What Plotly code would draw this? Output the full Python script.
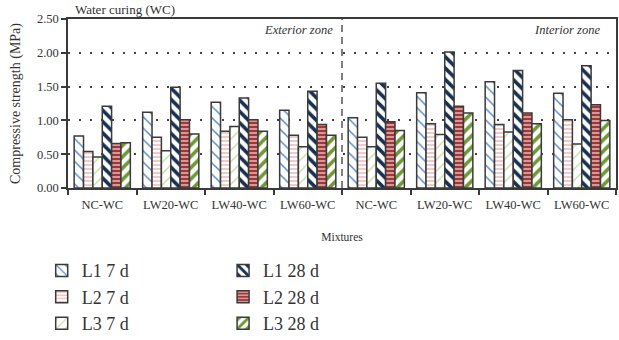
import plotly.graph_objects as go

# Mixtures along the x axis (exterior zone first, then interior zone)
mixtures = ["NC-WC", "LW20-WC", "LW40-WC", "LW60-WC",
            "NC-WC", "LW20-WC", "LW40-WC", "LW60-WC"]

series_names = ["L1 7 d", "L2 7 d", "L3 7 d", "L1 28 d", "L2 28 d", "L3 28 d"]

# Compressive strength (MPa)
l1_7d = [0.77, 1.12, 1.27, 1.15, 1.04, 1.41, 1.57, 1.40]
l2_7d = [0.54, 0.75, 0.84, 0.78, 0.75, 0.95, 0.94, 1.01]
l3_7d = [0.46, 0.55, 0.91, 0.61, 0.61, 0.79, 0.83, 0.65]
l1_28d = [1.21, 1.49, 1.33, 1.43, 1.55, 2.01, 1.74, 1.81]
l2_28d = [0.66, 1.01, 1.01, 0.94, 0.98, 1.21, 1.11, 1.23]
l3_28d = [0.67, 0.80, 0.84, 0.78, 0.85, 1.11, 0.95, 1.00]

y_ticks = [0.0, 0.5, 1.0, 1.5, 2.0, 2.5]

FONT = "'Liberation Serif', 'DejaVu Serif', serif"
TXT = "#333333"
EDGE = "#3a3a3a"

styles = [
    dict(shape="\\", fg="#4f86c6", bg="#ffffff", size=8, sol=0.18, legend="legend"),
    dict(shape="-", fg="#eba3a3", bg="#ffffff", size=4, sol=0.3, legend="legend"),
    dict(shape="/", fg="#c6dea6", bg="#ffffff", size=8, sol=0.18, legend="legend"),
    dict(shape="\\", fg="#17304f", bg="#ffffff", size=8, sol=0.45, legend="legend2"),
    dict(shape="-", fg="#ffffff", bg="#a23535", size=4, sol=0.25, legend="legend2"),
    dict(shape="/", fg="#6c9a32", bg="#ffffff", size=8, sol=0.45, legend="legend2"),
]
values = [l1_7d, l2_7d, l3_7d, l1_28d, l2_28d, l3_28d]

xpos = list(range(len(mixtures)))

fig = go.Figure()
for name, vals, st in zip(series_names, values, styles):
    fig.add_trace(go.Bar(
        x=xpos, y=vals, name=name, legend=st["legend"],
        marker=dict(
            color=st["bg"],
            line=dict(color=EDGE, width=1.5),
            pattern=dict(shape=st["shape"], fgcolor=st["fg"], bgcolor=st["bg"],
                         size=st["size"], solidity=st["sol"], fillmode="replace"),
        ),
    ))

legend_common = dict(
    orientation="v", font=dict(family=FONT, size=18, color=TXT),
    bgcolor="rgba(0,0,0,0)", yanchor="top", xanchor="left",
    itemclick=False, itemdoubleclick=False, tracegroupgap=0,
)

fig.update_layout(
    width=619, height=340,
    margin=dict(l=68, r=3, t=19, b=152, autoexpand=False),
    paper_bgcolor="white", plot_bgcolor="white",
    barmode="group", bargap=0.18, bargroupgap=0,
    font=dict(family=FONT, size=12, color=TXT),
    showlegend=True,
    legend=dict(x=-0.048, y=-0.38, **legend_common),
    legend2=dict(x=0.283, y=-0.38, **legend_common),
    xaxis=dict(
        range=[-0.5, len(mixtures) - 0.5], automargin=False,
        tickmode="array", tickvals=xpos, ticktext=mixtures,
        ticks="", showgrid=False, zeroline=False,
        showline=True, linecolor=EDGE, linewidth=1.5, mirror=True,
        ticklabelstandoff=4,
        tickfont=dict(family=FONT, size=12.5, color=TXT),
        minor=dict(tickvals=[i - 0.5 for i in range(len(mixtures) + 1)],
                   ticks="outside", ticklen=5, tickwidth=1.5, tickcolor=EDGE,
                   showgrid=False),
        title=dict(text="Mixtures", font=dict(family=FONT, size=11.5, color=TXT),
                   standoff=22),
    ),
    yaxis=dict(
        range=[0, 2.5], automargin=False,
        tickmode="array", tickvals=y_ticks, tickformat=".2f",
        ticks="outside", ticklen=5, tickwidth=1.5, tickcolor=EDGE,
        showgrid=True, gridcolor="#444444", gridwidth=1.5, griddash="1.5px,9.5px",
        zeroline=False,
        showline=True, linecolor=EDGE, linewidth=1.5, mirror=True,
        tickfont=dict(family=FONT, size=12.5, color=TXT),
        title=dict(text="Compressive strength (MPa)",
                   font=dict(family=FONT, size=14, color=TXT), standoff=13),
    ),
    shapes=[dict(type="line", xref="x", yref="paper",
                 x0=(len(mixtures) - 1) / 2, x1=(len(mixtures) - 1) / 2, y0=0, y1=1,
                 line=dict(color="#555555", width=1.5, dash="7px,5px"))],
    annotations=[
        dict(text="Water curing (WC)", xref="paper", yref="paper", x=0.01, y=1.0,
             xanchor="left", yanchor="bottom", showarrow=False,
             font=dict(family=FONT, size=13, color=TXT)),
        dict(text="<i>Exterior zone</i>", xref="paper", yref="paper", x=0.487, y=0.935,
             xanchor="right", yanchor="middle", showarrow=False,
             font=dict(family=FONT, size=12.5, color=TXT)),
        dict(text="<i>Interior zone</i>", xref="paper", yref="paper", x=0.975, y=0.935,
             xanchor="right", yanchor="middle", showarrow=False,
             font=dict(family=FONT, size=12.5, color=TXT)),
    ],
)

fig.write_html("out.html")
